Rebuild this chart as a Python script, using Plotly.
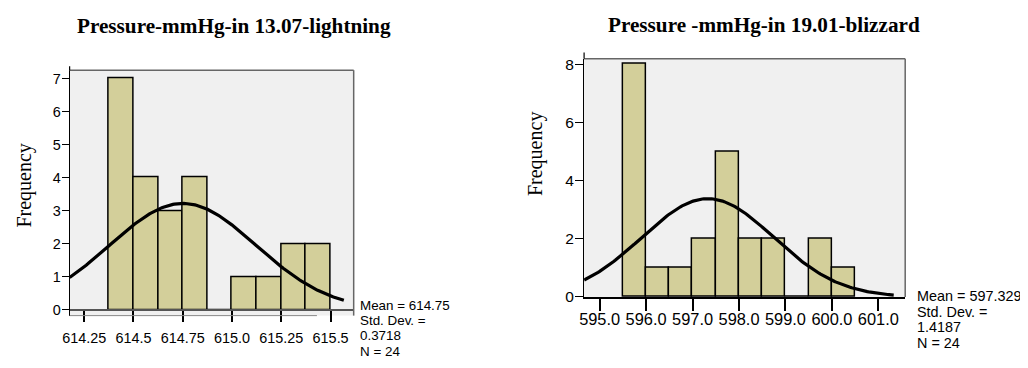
import numpy as np
import plotly.graph_objects as go

# page body has an 8px margin: lay the figure out in reference pixels shifted by OFF
OFF = 8
W, H = 1028, 368

# ---- data: left chart (13.07 lightning) ----
left_title = "Pressure-mmHg-in 13.07-lightning"
left_edges = [614.375, 614.5, 614.625, 614.75, 614.875, 615.0, 615.125, 615.25, 615.375, 615.5]
left_counts = [7, 4, 3, 4, 0, 1, 1, 2, 2]
left_mean, left_std, left_n = 614.75, 0.3718, 24
left_mean_txt, left_std_txt = "614.75", "0.3718"
left_xticks = [614.25, 614.5, 614.75, 615.0, 615.25, 615.5]
left_xticklabels = ["614.25", "614.5", "614.75", "615.0", "615.25", "615.5"]
left_yticks = [0, 1, 2, 3, 4, 5, 6, 7]

# ---- data: right chart (19.01 blizzard) ----
right_title = "Pressure -mmHg-in 19.01-blizzard"
right_edges = [595.5, 596.0, 596.5, 597.0, 597.5, 598.0, 598.5, 599.0, 599.5, 600.0, 600.5]
right_counts = [8, 1, 1, 2, 5, 2, 2, 0, 2, 1]
right_mean, right_std, right_n = 597.329, 1.4187, 24
right_mean_txt, right_std_txt = "597.329", "1.4187"
right_xticks = [595.0, 596.0, 597.0, 598.0, 599.0, 600.0, 601.0]
right_xticklabels = ["595.0", "596.0", "597.0", "598.0", "599.0", "600.0", "601.0"]
right_yticks = [0, 2, 4, 6, 8]

BAR = "#d3cf9a"
BG = "#f0f0f0"
SANS = "Liberation Sans, Arial, sans-serif"
SERIF = "Liberation Serif, Times New Roman, serif"


def px(x):
    return (x - OFF) / W


def py(y):
    return (H - (y - OFF)) / H


def hist_trace(edges, counts, xa, ya):
    e = np.array(edges)
    centers = (e[:-1] + e[1:]) / 2
    widths = e[1:] - e[:-1]
    return go.Bar(x=centers, y=counts, width=widths, marker=dict(color=BAR, line=dict(color="black", width=1.5)),
                  xaxis=xa, yaxis=ya, showlegend=False, hoverinfo="skip")


def normal_trace(mean, std, n, bw, x0, x1, xa, ya):
    xs = np.linspace(x0, x1, 200)
    ys = n * bw / (std * np.sqrt(2 * np.pi)) * np.exp(-0.5 * ((xs - mean) / std) ** 2)
    return go.Scatter(x=xs, y=ys, mode="lines", line=dict(color="black", width=3.2),
                      xaxis=xa, yaxis=ya, showlegend=False, hoverinfo="skip", cliponaxis=False)


fig = go.Figure()
fig.add_trace(hist_trace(left_edges, left_counts, "x", "y"))
fig.add_trace(normal_trace(left_mean, left_std, left_n, left_edges[1] - left_edges[0], 614.176, 615.567, "x", "y"))
fig.add_trace(hist_trace(right_edges, right_counts, "x2", "y2"))
fig.add_trace(normal_trace(right_mean, right_std, right_n, right_edges[1] - right_edges[0], 594.665, 601.33, "x2", "y2"))

# geometry (reference pixels)
L = dict(x0=63, x1=349, ytop=69, ybot=322, yzero=316)
R = dict(x0=581, x1=904.3, ytop=57.3, ybot=302.7)

fig.update_layout(
    width=W, height=H, margin=dict(l=0, r=0, t=0, b=0),
    paper_bgcolor="white", plot_bgcolor=BG, bargap=0,
    font=dict(family=SANS, color="black"),
    xaxis=dict(domain=[px(L["x0"]), px(L["x1"])], range=[614.176, 615.617], anchor="free",
               position=py(L["yzero"]), showline=True, linecolor="#555", linewidth=1.5,
               ticks="outside", ticklen=11, tickcolor="black", tickwidth=1.5,
               tickvals=left_xticks, ticktext=left_xticklabels, tickfont=dict(size=14.4, family=SANS),
               showgrid=False, zeroline=False, ticklabelstandoff=4),
    yaxis=dict(domain=[py(L["ybot"]), py(L["ytop"])], range=[-0.176, 7.254], anchor="x",
               showline=True, linecolor="black", linewidth=1.2, ticks="outside", ticklen=7,
               tickcolor="black", tickwidth=1.2, tickvals=left_yticks, tickfont=dict(size=14.4, family=SANS),
               showgrid=False, zeroline=False, ticklabelstandoff=-2),
    xaxis2=dict(domain=[px(R["x0"]), px(R["x1"])], range=[594.665, 601.577], anchor="y2",
                showline=True, linecolor="black", linewidth=1.5, ticks="outside", ticklen=12,
                tickcolor="black", tickwidth=1.5, tickvals=right_xticks, ticktext=right_xticklabels,
                tickfont=dict(size=16.4, family=SANS), showgrid=False, zeroline=False, ticklabelstandoff=-5),
    yaxis2=dict(domain=[py(R["ybot"]), py(R["ytop"])], range=[0, 8.18], anchor="x2",
                showline=True, linecolor="black", linewidth=1.2, ticks="outside", ticklen=8,
                tickcolor="black", tickwidth=1.2, tickvals=right_yticks, tickfont=dict(size=15.5, family=SANS),
                showgrid=False, zeroline=False, ticklabelstandoff=-2),
)

shapes = []
# box borders (top/right gray)
for d in (L, R):
    shapes.append(dict(type="line", xref="paper", yref="paper", x0=px(d["x0"]), x1=px(d["x1"]),
                       y0=py(d["ytop"]), y1=py(d["ytop"]), line=dict(color="#666", width=1.5)))
    shapes.append(dict(type="line", xref="paper", yref="paper", x0=px(d["x1"]), x1=px(d["x1"]),
                       y0=py(d["ytop"]), y1=py(d["ybot"]), line=dict(color="#666", width=1.5)))
# y-axis line extension above box
shapes.append(dict(type="line", xref="paper", yref="paper", x0=px(L["x0"]), x1=px(L["x0"]),
                   y0=py(L["ytop"]), y1=py(65), line=dict(color="black", width=1.2)))
shapes.append(dict(type="line", xref="paper", yref="paper", x0=px(R["x0"]), x1=px(R["x0"]),
                   y0=py(R["ytop"]), y1=py(50.7), line=dict(color="black", width=1.2)))
# gray bottom line of left box
shapes.append(dict(type="line", xref="paper", yref="paper", x0=px(L["x0"]), x1=px(312),
                   y0=py(L["ybot"]), y1=py(L["ybot"]), line=dict(color="#888", width=1)))
fig.update_layout(shapes=shapes)

ann = []
ann.append(dict(text="<b>" + left_title + "</b>", x=px(229), y=py(23), xref="paper", yref="paper",
                showarrow=False, xanchor="center", yanchor="middle", font=dict(family=SERIF, size=21.2)))
ann.append(dict(text="<b>" + right_title + "</b>", x=px(762), y=py(8.5), xref="paper", yref="paper",
                showarrow=False, xanchor="center", yanchor="top", font=dict(family=SERIF, size=21.2)))
for xc, yc in ((18, 188), (532, 155)):
    ann.append(dict(text="Frequency", x=px(xc), y=py(yc), xref="paper", yref="paper", textangle=-90,
                    showarrow=False, xanchor="center", yanchor="middle", font=dict(family=SERIF, size=20)))

left_stats = ["Mean = " + left_mean_txt, "Std. Dev. =", left_std_txt, "N = " + str(left_n)]
for t, yc in zip(left_stats, [311.7, 327.5, 343, 358.5]):
    ann.append(dict(text=t, x=px(356.5), y=py(yc), xref="paper", yref="paper", showarrow=False,
                    xanchor="left", yanchor="middle", xshift=-3, font=dict(family=SANS, size=13.4)))
right_stats = ["Mean = " + right_mean_txt, "Std. Dev. =", right_std_txt, "N = " + str(right_n)]
for t, yc in zip(right_stats, [301.7, 318, 334, 350]):
    ann.append(dict(text=t, x=px(917), y=py(yc), xref="paper", yref="paper", showarrow=False,
                    xanchor="left", yanchor="middle", xshift=-3, font=dict(family=SANS, size=14.4)))
fig.update_layout(annotations=ann)

fig.write_html("out.html")
